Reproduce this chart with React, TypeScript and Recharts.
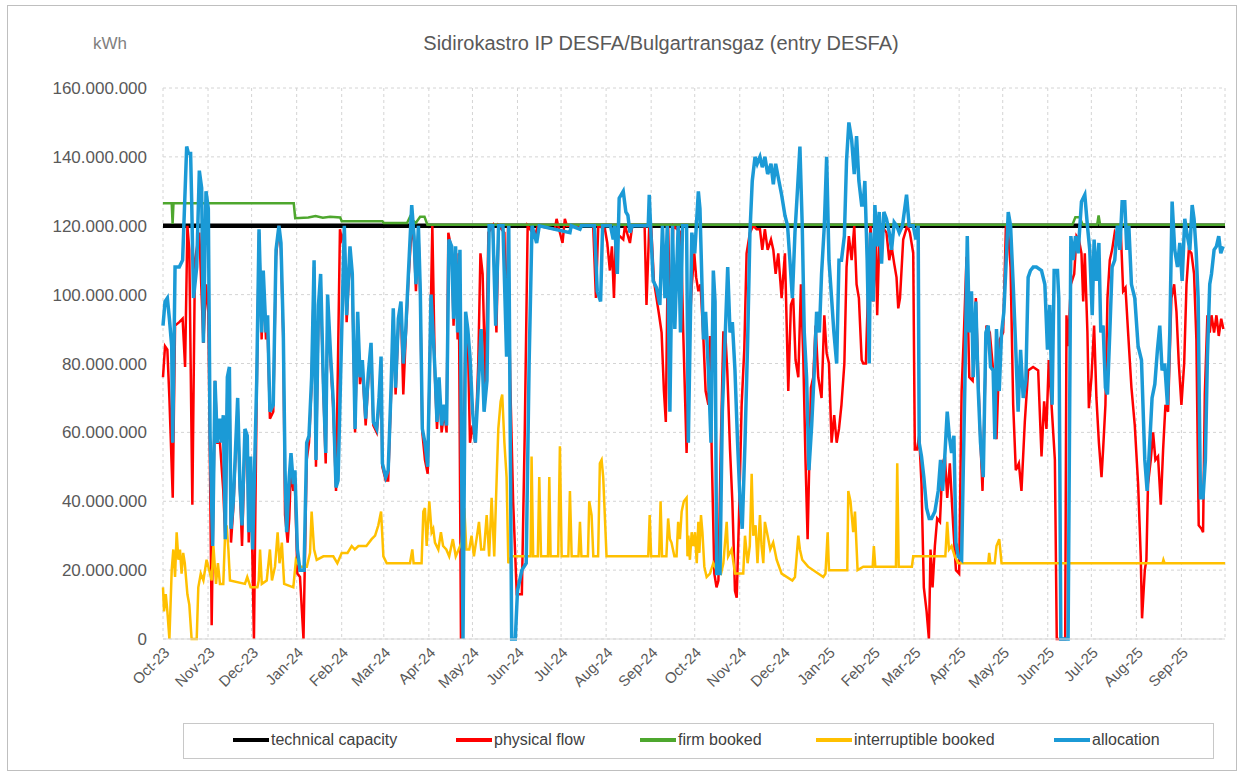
import React from 'react';
import { LineChart, Line, XAxis, YAxis, CartesianGrid } from 'recharts';

// Days counted from 1 Oct 2023; values in million kWh
const monthLabels = ['Oct-23','Nov-23','Dec-23','Jan-24','Feb-24','Mar-24','Apr-24','May-24','Jun-24','Jul-24','Aug-24','Sep-24','Oct-24','Nov-24','Dec-24','Jan-25','Feb-25','Mar-25','Apr-25','May-25','Jun-25','Jul-25','Aug-25','Sep-25'];
const monthStartDays = [0,31,61,92,123,152,183,213,244,274,305,336,366,397,427,458,489,517,548,578,609,639,670,701];
const endDay = 731;
const yTicks = [0,20,40,60,80,100,120,140,160];

const technicalCapacity: [number, number][] = [[0,120],[731,120]];

const firmBooked: [number, number][] = [[0,126.5],[6,126.5],[6.6,120.5],[7.2,126.5],[90,126.5],[91,122.2],[100,122.4],[105,122.8],[110,122.3],[115,122.6],[122,122.4],[123,121.3],[151,121.3],[152,120.8],[168,120.8],[170,122.6],[172,121.5],[174,120.8],[177,122.6],[180,122.6],[182,120.3],[626,120.3],[628,122.5],[631,122.5],[633,120.3],[643,120.3],[644,123],[645,120.3],[731,120.3]];

const physicalFlow: [number, number][] = [
[0,76],[1.4,85],[3,84],[4.4,70],[6.7,41],[8.3,91],[11.2,92],[13.5,93],[15.2,79],[16.8,120],[18.1,113],[20.2,39],[22,110],[25,118],[27.8,86],[29.6,103],[31.2,95],[33.5,4],[35.8,75],[37.4,57],[39.2,57],[41.5,43],[42.9,29],[44.3,74],[45.7,77],[46.8,28],[48.4,38],[51.4,68],[53,43],[54.4,27],[56.4,57],[58,57],[59,28],[60.3,51],[62.6,0],[64.5,72],[66.1,118],[67.9,87],[69,105],[70.9,87],[72,90],[73.6,64],[75.9,66],[77.8,111],[79.8,120],[81.2,113],[82.8,87],[84,36],[85.8,28],[86.9,35],[88.1,50],[89.7,43],[90.8,45],[92.5,19],[94.3,18],[96.7,0],[98.9,52],[100.5,57],[102.3,74],[104,108],[105.3,50],[107,95],[108.5,104],[110.4,72],[112,51],[113.3,98],[115.4,80],[117.2,67],[119.1,43],[121.8,119],
[123,116],[124.8,118],[126.4,92],[128.7,112],[130.3,104],[132.2,60],[134,93],[135.6,74],[137.2,79],[139.5,62],[141.3,75],[143.2,84],[144.8,62],[147.1,60],[148.7,68],[150.1,80],[151,50],[153.3,46],[155,46],[157,71],[158.5,94],[160.1,71],[162,91],[163.8,96],[165.4,71],[167,87],[168.9,104],[171.2,120],[172.8,115],[174.1,101],[175.8,119],[177.1,99],[178.5,60],[180.3,52],[182.2,48],[185.4,120],[187.2,76],[188.6,61],[190,74],[191.8,60],[193.5,66],[195.2,60],[196.4,118],[198.7,113],[200,91],[201.4,112],[202.8,87],[203.5,112],[205.1,0],[206.5,40],[208.3,92],[209.8,88],[211.3,57],[213.1,62],[215,57],[217,80],[218.5,112],[220,106],[222,72],[224,118],[227,120],[229.5,89],[231,120],[235,118],[236.5,83],[237.5,120],[239,75],[241,40],[243.5,13],[247,13],[249,60],[251,120],
[256,117],[258,120],[269.8,119],[270.9,122],[272,120],[275,115],[276.6,122],[278,120],[296.1,120],[298,99],[299.6,120],[304.2,119],[305.8,115],[307.6,107],[309,114],[310.4,99],[311.7,118],[316.8,116],[318,120],[321.4,115],[323,120],[331.5,120],[332.8,97],[334.7,120],[336,120],[337.9,104],[339.7,99],[341.5,94],[343.2,89],[344.8,72],[346.1,63],[347.7,120],[349.3,90],[351.2,120],[356.5,118],[358.1,89],[360.4,54],
[362.5,90],[364,103],[365.7,112],[367,105],[368.5,101],[370,103],[372,87],[373.5,72],[375.4,68],[376.5,88],[377.7,54],[379.5,19],[381,15],[382.3,17],[384,57],[385.7,89],[387,89],[388.4,78],[390.3,55],[391.9,40],[393.7,14],[394.9,12],[396.5,36],[398.3,68],[400.1,84],[401.7,112],[404,118],[406.3,120],[408.6,119],[410.9,119],[412.5,113],[414.3,119],[416.2,113],[418.5,116],[420.1,113],[421.7,106],[423.5,112],[425.8,99],[428.1,112],[430.4,72],[432.2,97],[433.8,99],[435.4,81],[437.3,76],[439.1,103],[440.7,82],[442.3,51],[443.7,29],[446,73],[447.6,76],[449.2,91],[451,76],[453.3,70],[455.2,94],[456.8,83],[458.4,80],[460.2,57],[462,65],[463.7,57],[465.3,61],[467,68],[469,80],[470.5,108],[472.1,117],[474,110],[475.8,120],[477.4,103],[479,99],[480.9,81],
[482,80],[483.8,80],[485.4,103],[487,120],[488.9,98],[490.6,118],[491.6,94],[493,115],[494.6,120],[498,118],[499.9,110],[501.5,114],[503.3,109],[504.9,105],[506.1,96],[507.3,99],[509.5,116],[512.3,120],[514.1,118],[516.4,112],[517.5,55],[519,55],[520.5,59],[522.1,45],[523.7,15],[525.6,8],[527.2,0],[528.3,26],[529.7,15],[531.3,27],[532.9,35],[534.8,34],[536.6,51],[538.2,53],[539.8,41],[541.6,51],[543.9,33],[545.8,20],[548,19],[549.7,72],[551.3,89],[553.1,111],[555,76],[557.3,75],[559.5,99],[562.3,61],[564.1,43],[566.8,91],[569.1,89],[571.4,78],[573.7,58],[576,87],[578.3,89],[580.2,120],[581.8,118],[583.4,108],[585.2,68],[587,49],[589.1,51],[590.9,43],[593.2,63],[595.5,78],[598.9,79],[602.4,78],
[604.7,53],[606.5,69],[608.1,61],[609.7,81],[611.6,68],[613.9,52],[615.2,0],[621,0],[621.9,94],[623,85],[624.9,103],[627.2,106],[628.8,117],[630.4,116],[632.2,112],[633.4,98],[634.5,112],[636.3,89],[637.3,67],[639.1,76],[640.9,91],[642.5,70],[644.2,57],[646,47],[647.1,55],[648.7,68],[650.1,99],[651.7,110],[653.3,113],[655.1,118],[657,116],[659.3,118],[660.9,101],[662.5,102],[664.3,89],[666.6,73],[668.9,62],[671.2,45],[673,24],[673.9,6],[675.8,20],[676.9,23],[678,45],[679.9,52],[681.5,60],[683.1,52],[684.9,53],[686.8,39],[688.4,55],[690,68],[691.8,66],[694.1,99],[696,103],[697.6,95],[699.2,80],[701,68],[702.9,80],[704.5,103],[706.1,113],[707.9,112],[709.7,106],[711.3,87],[712.9,33],[714.8,32],[715.9,31],[717.1,71],[718.9,94],[720.5,89],[721.7,94],[723.5,89],[725.1,94],[726.7,88],[728.4,93],[729.9,90]
];

const interruptibleBooked: [number, number][] = [
[0,15],[0.7,8],[1.9,13],[3,8],[4.4,0],[6,20],[7.1,26],[8.3,18],[9.4,31],[10.6,23],[11.7,26],[12.8,19],[13.9,25],[15,22],[16.8,13],[18.1,10],[19.7,0],[23.2,0],[24.3,15],[26,19],[27.8,17],[30,23],[32.4,19],[33.5,17],[34.7,27],[36.5,16],[37.8,22],[39.2,16],[41.5,16],[42.7,30],[43.8,33],[45,26],[46.1,17],[56.4,16],[58,18],[60.3,15],[65,15],[65.9,17],[66.8,26],[68,16],[71.4,17],[73.6,26],[75,17],[77.1,21],[78.9,31],[80.2,22],[81.8,28],[83.4,16],[89.7,15],[91.5,23],[94.3,21],[99,21],[101.2,25],[102.3,37],[104,26],[105.8,23],[110.4,24],[117.2,24],[120,22],[123,25],[127,25],[129.9,27],[132,26],[134.5,27],[140,27],[143.6,29],[146,30],[148.2,33],[150.1,37],[151.7,24],[154,22],[170,22],[171.6,26],[172.5,22],[178,22],[179.2,37],[180.3,38],[181.5,27],[183.3,40],[184.9,31],[186,32],[187.2,28],[189.5,26],[191.3,31],[192.8,27],[195,26],[197,24],[199.5,29],[201.5,24],[203.5,26],[205.5,28],[207.4,38],[208.8,26],[210.8,26],[212.4,30],[214,24],[215.8,29],[217.5,34],[219,26],[221,26],[222.8,36],[224.5,24],[226.2,41],[228,24],[229.7,47],[230.8,61],[232.4,69],[233.5,71],[235,57],[236.5,47],[237.7,22],[240,24],[253,24],[253.7,53],[254.8,24],[258,24],[259,47],[260.2,24],[265,24],[265.9,47],[266.8,24],[272,24],[273.2,56],[274.4,24],[279,24],[280.1,43],[281.3,24],[286,24],[287,34],[288,24],[292.5,24],[293.4,40],[295,36],[296.2,24],[299.5,24],[300.7,51],[301.9,52],[303,47],[305.3,24],[334,24],[335,36],[336,24],[341.5,24],[342.5,40],[343.5,24],[346.5,24],[347.7,35],[348.9,29],[350,28],[352,24],[353.5,24],[354.6,34],[355.8,29],[357,37],[358.5,40],[360.4,41],[361,24],[361.6,30],[362.7,23],[363.9,31],[365,27],[366.2,31],[367.4,22],[368.5,34],[369.2,25],[370.3,36],[371.3,31],[372.6,21],[374.2,18],[376.5,19],[378.8,22],[381,20],[384.1,19],[385.7,22],[388,34],[389,24],[391.4,26],[393.7,19],[399.4,19],[400.6,30],[402.4,22],[403.9,27],[405.2,48],[406.3,30],[407.9,33],[409.2,22],[410.9,36],[412,27],[413.2,22],[414.3,34],[416.2,30],[418,26],[420,28],[422.4,23],[425.8,19],[433.2,17],[435,18],[437.3,30],[438.4,26],[440,23],[444,21],[454.5,18],[456,19],[457.5,31],[458.4,20],[471,20],[471.7,43],[473.2,40],[475.1,31],[476.3,37],[478.1,20],[482,21],[488.5,21],[489.3,27],[490.3,21],[504.5,21],[505.4,51],[506.4,21],[515.5,21],[516.4,24],[538.5,24],[539.8,34],[541,26],[542.8,27],[545,24],[547.4,22],[568,22],[568.7,25],[569.5,22],[572.5,22],[573.7,27],[575.6,29],[577.2,22],[688,22],[688.6,23],[689.4,22],[731,22]
];

const allocation: [number, number][] = [
[0,91],[1.4,98],[3,99],[4.4,93],[6,85],[6.7,57],[8.3,108],[11.2,108],[13.5,110],[16.3,143],[17.5,141],[19,141],[19.7,128],[21,99],[23.2,108],[25,136],[26.6,131],[27.8,86],[29.6,130],[31.2,125],[32.4,59],[34.2,27],[35.8,75],[37.4,57],[39.2,64],[40.3,57],[41.5,65],[42.9,29],[44.3,76],[45.7,79],[46.8,32],[48.4,40],[51.4,70],[53,44],[54.4,33],[56.4,61],[58,59],[59,31],[60.3,53],[61.7,26],[64.5,75],[66.1,119],[67.9,89],[69,107],[70.9,89],[72,94],[73.6,66],[75.9,68],[77.8,113],[79.8,120],[81.2,115],[82.8,89],[84,49],[85.1,31],[86.9,47],[88.1,54],[89.7,45],[90.8,49],[92.5,26],[94.3,20],[97.1,20],[98.9,57],[100.5,59],[102.3,76],[104,110],[105.3,52],[107,97],[108.5,106],[110.4,74],[112,54],[113.3,100],[115.4,82],[117.2,69],[119.1,44],
[120.5,46],[123,89],[124.8,120],[126.4,94],[128.7,114],[130.3,106],[132.2,61],[134,95],[135.6,76],[137.2,81],[139.5,64],[141.3,77],[143.2,86],[144.8,63],[147.1,61],[148.7,70],[150.1,82],[151,51],[153.3,47],[155,49],[157,73],[158.5,96],[160.1,73],[162,93],[163.8,98],[165.4,80],[167,89],[168.9,106],[171.2,126],[172.8,117],[174.1,103],[175.8,120],[177.1,101],[178.5,61],[180.3,57],[182.2,50],[184.5,100],[187.2,78],[188.6,63],[190,76],[191.8,62],[193.5,68],[195.2,62],[196.8,116],[198.7,114],[200,93],[201.4,114],[202.8,89],[204.4,113],[206.5,0],[208.3,95],[209.8,90],[211.3,82],[213.1,66],
[215,57],[217,73],[219,90],[221,66],[223,75],[224.5,120],[227,120],[229,91],[231,120],[234,120],[236.5,82],[238,120],[240,0],[242.5,0],[244,14],[247,20],[250,22],[252,80],[254,120],
[257.2,115],[259,120],[280.1,118],[281,120],[287,119],[288,120],[297,120],[298.9,101],[301.2,98],[302.6,120],[308,120],[309.9,116],[311,120],[312.7,106],[314,128],[316.8,130],[318.6,124],[320,123],[321.4,118],[323,120],[334,120],[334.7,129],[335.6,120],[337.4,104],[339.7,102],[342,97],[343.8,120],[345.5,99],[347.1,120],[348.9,66],[350.7,120],[352.3,90],[354.6,120],[356.2,89],[357.6,120],[360.4,120],
[361.6,57],[364,118],[366,112],[368.5,130],[369.6,125],[372,87],[373.5,95],[375.4,78],[377.2,57],[378.8,107],[380,98],[381.1,19],[383.4,19],[385,66],[386.8,86],[388.7,108],[390.3,89],[391.9,92],[393.7,78],[395.5,57],[397.1,41],[398.7,32],[400.6,57],[402.4,86],[404,118],[405.6,133],[407.5,140],[409,138],[410.9,140],[412.5,137],[414.3,140],[416.2,135],[418.5,138],[420.1,132],[421.7,138],[423.5,134],[425.8,129],[428.1,123],[429.9,120],[431.5,110],[433.2,99],[435,118],[436.8,131],[438.4,143],[440,120],[441.4,89],[443,76],[444.6,49],[446.5,62],[448.3,78],[449.9,95],[451.8,89],[453.3,106],[455.2,120],[456.8,140],[458.4,110],[460.2,99],[461.8,89],[463.7,80],[465.3,110],[467,110],[469,117],[470.5,139],[472.1,150],[474,145],[475.8,135],[477.4,146],[479,133],[480.9,126],
[482,126],[483.1,133],[484.7,110],[486.1,80],[487,118],[488.9,98],[490,126],[491.6,114],[493,124],[494.6,109],[496.2,124],[498,122],[499.9,118],[501.5,113],[503.3,121],[505,120],[506.8,118],[509,120],[511.8,129],[513.6,120],[516.4,120],[518.2,116],[519.8,120],[520.5,57],[522.1,53],[523.7,47],[525.6,38],[527.4,35],[529,35],[531.3,37],[533.6,43],[535.2,52],[536.6,43],[538,52],[539.8,66],[541.2,59],[542.8,54],[544.4,59],[545.8,28],[547.4,24],[549.7,23],[552,75],[553.6,117],[555,89],[556.5,101],[557.7,76],[559.5,98],[561.1,73],[562.7,57],[564.6,47],[566.4,89],[568,91],[569.6,79],[571.4,78],[572.6,58],[573.7,90],[575.6,72],[577.2,89],[578.8,95],[580.2,108],[581.8,124],[583.4,120],[585.2,103],[587,84],[588.6,66],[590.3,84],[592.1,70],[593.9,75],[595.5,105],[597.1,107],[599,108],[601.2,108],
[604.7,107],[607,103],[608.8,84],[610.4,97],[612,68],[613.4,107],[615.7,107],[616.6,99],[618,0],[623,0],[624.9,117],[626.5,110],[628.1,117],[629.9,112],[632.2,127],[634.5,129],[636.3,120],[637.9,113],[639.6,94],[640.9,116],[642.5,104],[644.2,115],[645.5,89],[647.1,91],[648.7,73],[650.1,71],[651.7,89],[653.3,108],[655.1,110],[656.9,120],[658.6,113],[660.2,127],[662,127],[663.4,113],[664.8,120],[666.6,103],[668.9,99],[671.2,85],[673.5,81],[675.8,52],[677.4,43],[679.2,57],[680.8,70],[682.7,74],[684.5,84],[686.1,91],[687.7,78],[689.5,80],[691.4,68],[693,89],[694.6,127],[696.4,113],[698.3,108],[699.9,115],[701.5,104],[703.3,122],[705.1,117],[706.8,113],[708.4,126],[709.7,122],[711.1,113],[712.5,99],[714.1,41],[715.9,41],[717.5,52],[718.9,82],[720.5,103],[721.7,106],[723.5,113],[725.1,114],[726.7,117],[728.1,112],[729.7,114]
];

const seriesDefs = [
  { key: 'tech', name: 'technical capacity', color: '#000000', width: 4.5, points: technicalCapacity },
  { key: 'phys', name: 'physical flow', color: '#ff0000', width: 2.5, points: physicalFlow },
  { key: 'firm', name: 'firm booked', color: '#4ea72e', width: 2.5, points: firmBooked },
  { key: 'intr', name: 'interruptible booked', color: '#ffc000', width: 2.5, points: interruptibleBooked },
  { key: 'alloc', name: 'allocation', color: '#1b9ad6', width: 3.5, points: allocation },
];

function buildTable() {
  const map = new Map<number, Record<string, number>>();
  seriesDefs.forEach((s) => {
    s.points.forEach(([d, v]) => {
      if (!map.has(d)) map.set(d, { d });
      map.get(d)![s.key] = v;
    });
  });
  return Array.from(map.values()).sort((a, b) => a.d - b.d);
}
const table = buildTable();

const fmt = (v: number) => Math.round(v * 1e6).toString().replace(/\B(?=(\d{3})+(?!\d))/g, '.');
const xTicks = [...monthStartDays, endDay];
const xLabel = (d: number) => {
  const i = monthStartDays.indexOf(d);
  return i >= 0 ? monthLabels[i] : '';
};

const legendLefts = [233, 456, 640, 816, 1054];

export default function App() {
  return (
    <div style={{ position: 'absolute', left: 0, top: 0, width: 1244, height: 776, background: '#fff', fontFamily: '"Liberation Sans", Arial, sans-serif' }}>
      <div style={{ position: 'absolute', left: 7, top: 5, width: 1228, height: 764, border: '1px solid #bfbfbf' }} />
      <div style={{ position: 'absolute', left: 93, top: 34, fontSize: 17, color: '#7f7f7f' }}>kWh</div>
      <div style={{ position: 'absolute', left: 0, width: 1322, top: 32, textAlign: 'center', fontSize: 20, color: '#595959' }}>
        Sidirokastro IP DESFA/Bulgartransgaz (entry DESFA)
      </div>
      <div style={{ position: 'absolute', left: 0, top: 0 }}>
        <LineChart width={1244} height={776} data={table} margin={{ top: 88, right: 19, bottom: 67, left: 0 }}>
          <CartesianGrid stroke="#d4d4d4" strokeDasharray="3 3" />
          <XAxis dataKey="d" type="number" domain={[0, endDay]} ticks={xTicks} interval={0} tickFormatter={xLabel}
            angle={-45} textAnchor="end" height={70} tickLine={false} tickSize={5}
            axisLine={{ stroke: '#d9d9d9' }} tick={{ fontSize: 15, fill: '#595959' }} />
          <YAxis type="number" domain={[0, 160]} ticks={yTicks} interval={0} tickFormatter={fmt} width={163}
            tickLine={false} axisLine={false} tickSize={0} tickMargin={16} tick={{ fontSize: 17, fill: '#595959' }} />
          {seriesDefs.map((s) => (
            <Line key={s.key} type="linear" dataKey={s.key} stroke={s.color} strokeWidth={s.width}
              dot={false} activeDot={false} connectNulls isAnimationActive={false} />
          ))}
        </LineChart>
      </div>
      <div style={{ position: 'absolute', left: 183, top: 723, width: 1029, height: 34, border: '1px solid #c8c8c8' }} />
      {seriesDefs.map((s, i) => (
        <div key={s.key} style={{ position: 'absolute', left: legendLefts[i], top: 730, height: 20, display: 'flex', alignItems: 'center', fontSize: 16, color: '#404040', whiteSpace: 'nowrap' }}>
          <span style={{ display: 'inline-block', width: 36, height: 4, background: s.color, marginRight: 2 }} />
          <span>{s.name}</span>
        </div>
      ))}
    </div>
  );
}
